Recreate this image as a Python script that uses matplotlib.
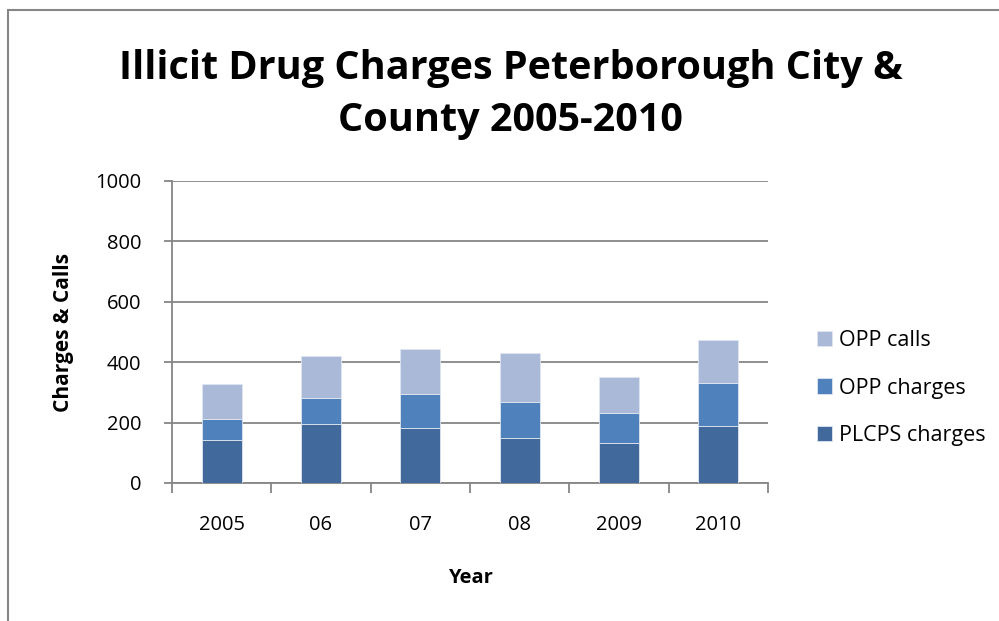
import numpy as np
import matplotlib.pyplot as plt
from matplotlib.patches import Rectangle

plt.rcParams['font.family'] = ['Open Sans', 'DejaVu Sans']

# 数据
years = ['2005', '06', '07', '08', '2009', '2010']
plcps_charges = [143, 195, 182, 150, 132, 190]
opp_charges = [68, 88, 112, 117, 101, 142]
opp_calls = [116, 138, 149, 163, 118, 142]

c_plcps = '#41699c'
c_oppch = '#4f81bd'
c_oppca = '#aab9d7'
grid_c = '#868686'

fig = plt.figure(figsize=(9.99, 6.21), dpi=100)
ax = fig.add_axes([172 / 999, 1 - 483 / 621, 596 / 999, 302 / 621])

x = np.arange(len(years))
b1 = ax.bar(x, plcps_charges, width=0.4, color=c_plcps, edgecolor='#dfe6f0', linewidth=0.6, zorder=3)
bottom2 = np.array(plcps_charges)
b2 = ax.bar(x, opp_charges, width=0.4, bottom=bottom2, color=c_oppch, edgecolor='#dfe6f0', linewidth=0.6, zorder=3)
bottom3 = bottom2 + np.array(opp_charges)
b3 = ax.bar(x, opp_calls, width=0.4, bottom=bottom3, color=c_oppca, edgecolor='#dfe6f0', linewidth=0.6, zorder=3)

ax.set_xlim(-0.5, len(years) - 0.5)
ax.set_ylim(0, 1000)
ax.set_yticks(range(0, 1001, 200))
ax.yaxis.grid(True, color=grid_c, linewidth=1.3, zorder=0)
ax.set_axisbelow(True)

for s in ['top', 'right']:
    ax.spines[s].set_visible(False)
for s in ['left', 'bottom']:
    ax.spines[s].set_color(grid_c)
    ax.spines[s].set_linewidth(1.3)

ax.set_xticks(x)
ax.set_xticklabels(years, fontsize=14.5)
ax.tick_params(axis='x', length=0, pad=23)
ax.set_xticks(np.arange(-0.5, len(years)), minor=True)
ax.tick_params(axis='x', which='minor', length=7, color=grid_c, width=1.3, direction='out')
ax.tick_params(axis='y', labelsize=14.5, length=6, color=grid_c, width=1.3, pad=16)

ax.set_ylabel('Charges & Calls', fontsize=15, fontweight='bold', labelpad=15)
ax.set_xlabel('Year', fontsize=14.5, fontweight='bold', labelpad=24)

fig.text(0.511, 1 - 68 / 621, 'Illicit Drug Charges Peterborough City &', ha='center', va='center',
         fontsize=28.5, fontweight='bold')
fig.text(0.511, 1 - 121 / 621, 'County 2005-2010', ha='center', va='center',
         fontsize=28.5, fontweight='bold')

fig.legend([b3, b2, b1], ['OPP calls', 'OPP charges', 'PLCPS charges'],
           loc='center left', bbox_to_anchor=(806 / 999, 1 - 388 / 621),
           frameon=False, fontsize=15.5, handlelength=0.7, handleheight=0.7,
           labelspacing=1.25, handletextpad=0.35, borderpad=0)

# 外框
fig.patches.append(Rectangle((8 / 999, -0.1), 1.2, 1 - 10 / 621 + 0.1, transform=fig.transFigure,
                             fill=False, edgecolor=grid_c, linewidth=1.5))

fig.savefig('out.png', dpi=100)
